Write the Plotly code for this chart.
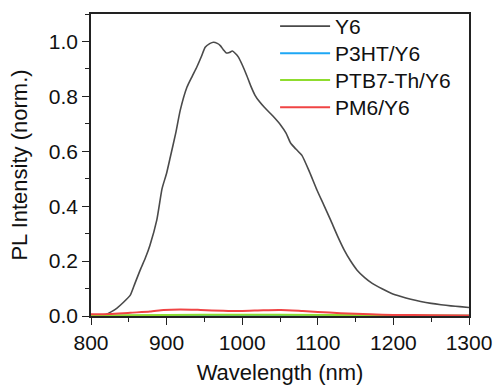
import plotly.graph_objects as go

# Y6
y6_wl = [815, 819, 826, 834, 843, 852, 858, 865, 872, 878, 887, 894, 900, 905, 912, 918, 927, 934, 940,
         946, 951, 957, 962, 967, 971, 975, 979, 983, 987, 991, 995, 1000, 1006, 1011, 1017, 1023, 1029,
         1040, 1051, 1058, 1064, 1071, 1079, 1089, 1099, 1108, 1117, 1126, 1135, 1143, 1152, 1162, 1172,
         1185, 1197, 1210, 1223, 1236, 1250, 1263, 1276, 1288, 1300]
y6_pl = [0.0, 0.004, 0.014, 0.028, 0.05, 0.076, 0.118, 0.167, 0.212, 0.258, 0.349, 0.464, 0.52, 0.58,
         0.665, 0.749, 0.834, 0.874, 0.907, 0.945, 0.979, 0.992, 0.997, 0.993, 0.985, 0.97, 0.958, 0.96,
         0.965, 0.956, 0.943, 0.915, 0.876, 0.84, 0.804, 0.78, 0.761, 0.73, 0.695, 0.666, 0.63, 0.608,
         0.585, 0.525, 0.458, 0.404, 0.349, 0.292, 0.24, 0.202, 0.167, 0.14, 0.119, 0.099, 0.083, 0.071,
         0.061, 0.053, 0.046, 0.041, 0.037, 0.034, 0.031]

# P3HT/Y6
p3ht_wl = [800, 900, 1000, 1100, 1200, 1300]
p3ht_pl = [0.001, 0.001, 0.001, 0.001, 0.0008, 0.0005]

# PTB7-Th/Y6
ptb7_wl = [800, 850, 880, 950, 1050, 1100, 1150, 1200, 1300]
ptb7_pl = [0.002, 0.003, 0.005, 0.005, 0.005, 0.004, 0.003, 0.002, 0.001]

# PM6/Y6
pm6_wl = [800, 825, 852, 878, 896, 918, 945, 975, 998, 1028, 1051, 1080, 1100, 1130, 1170, 1200, 1250, 1300]
pm6_pl = [0.006, 0.007, 0.012, 0.016, 0.022, 0.024, 0.022, 0.019, 0.018, 0.021, 0.022, 0.018, 0.015,
          0.01, 0.006, 0.004, 0.003, 0.002]

FONT = "Liberation Sans, Arial, sans-serif"
TICK = 21
TITLE = 22

fig = go.Figure()
fig.add_trace(go.Scatter(x=y6_wl, y=y6_pl, mode="lines", name="Y6", legend="legend",
                         line=dict(color="#4a4a4a", width=1.6, shape="spline", smoothing=0.5),
                         cliponaxis=False))
fig.add_trace(go.Scatter(x=p3ht_wl, y=p3ht_pl, mode="lines", name="P3HT/Y6", legend="legend2",
                         line=dict(color="#1ea7f5", width=2), cliponaxis=False))
fig.add_trace(go.Scatter(x=ptb7_wl, y=ptb7_pl, mode="lines", name="PTB7-Th/Y6", legend="legend3",
                         line=dict(color="#8fdc2e", width=2), cliponaxis=False))
fig.add_trace(go.Scatter(x=pm6_wl, y=pm6_pl, mode="lines", name="PM6/Y6", legend="legend4",
                         line=dict(color="#f04444", width=2, shape="spline", smoothing=0.6),
                         cliponaxis=False))

axis_common = dict(showgrid=False, zeroline=False, showline=True, linecolor="#222",
                   linewidth=1.5, ticks="outside", ticklen=7, tickwidth=1.2, tickcolor="#222",
                   mirror=True, automargin=False,
                   tickfont=dict(size=TICK, color="#111", family=FONT))

fig.update_xaxes(range=[800, 1300], dtick=100, tick0=800,
                 minor=dict(ticks="outside", ticklen=4, dtick=50, tickcolor="#222", tickwidth=1.2),
                 title=dict(text="Wavelength (nm)", font=dict(size=TITLE, color="#111", family=FONT)),
                 **axis_common)
fig.update_yaxes(range=[0, 1.1], dtick=0.2, tick0=0, tickformat=".1f",
                 minor=dict(ticks="outside", ticklen=4, dtick=0.1, tickcolor="#222", tickwidth=1.2),
                 title=dict(text="PL Intensity (norm.)", font=dict(size=TITLE, color="#111", family=FONT)),
                 **axis_common)


def leg(ytop):
    return dict(x=0.487, y=ytop, xanchor="left", yanchor="top", bgcolor="rgba(0,0,0,0)",
                borderwidth=0, itemwidth=50, font=dict(size=TICK, family=FONT, color="#111"))


fig.update_layout(
    width=493, height=385,
    margin=dict(l=91, r=24, t=14, b=69, autoexpand=False),
    paper_bgcolor="white", plot_bgcolor="white",
    font=dict(family=FONT, size=TICK, color="#111"),
    showlegend=True,
    legend=leg(1.0265),
    legend2=leg(0.937),
    legend3=leg(0.848),
    legend4=leg(0.758),
)

fig.write_html("out.html")
